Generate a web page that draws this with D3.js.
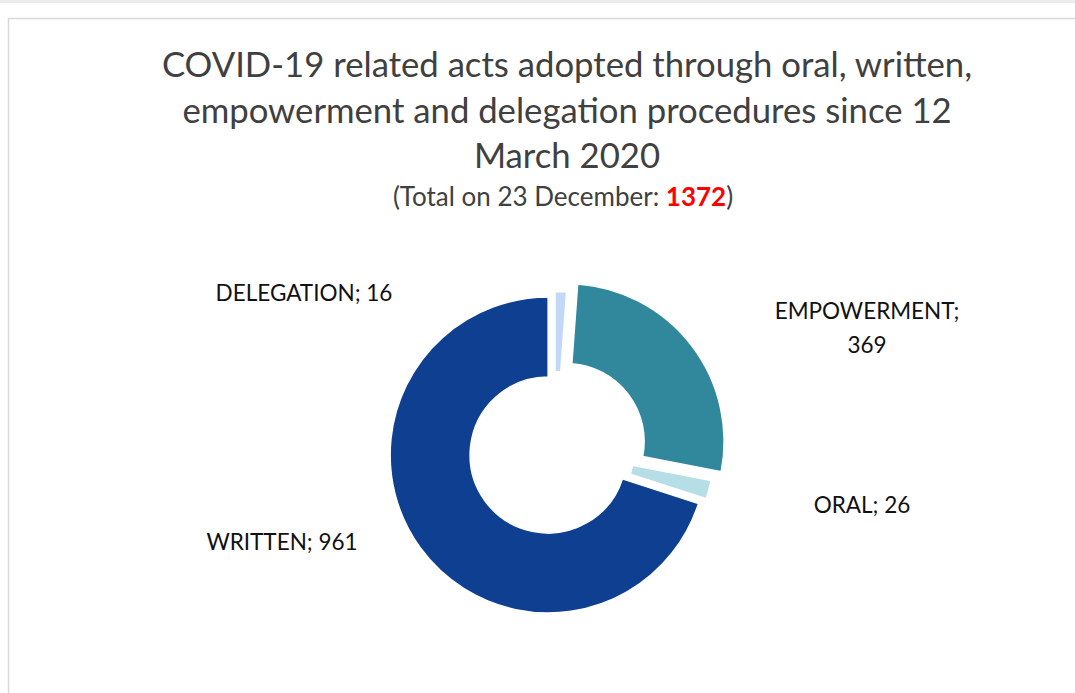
<!DOCTYPE html>
<html>
<head>
<meta charset="utf-8">
<script src="https://cdn.jsdelivr.net/npm/d3@7/dist/d3.min.js"></script>
<style>
  body{margin:0;background:#fff;}
  .chart text{font-family:Lato, "Open Sans", sans-serif;}
</style>
</head>
<body>
<div class="chart"></div>
<script>
/* data */
var categories=["DELEGATION","EMPOWERMENT","ORAL","WRITTEN"];
var values=[16,369,26,961];
var titleLines=["COVID-19 related acts adopted through oral, written,",
                "empowerment and delegation procedures since 12",
                "March 2020"];
var subtitlePrefix="(Total on 23 December: ";
var subtitleSuffix=")";

/* dimensions */
var width=1075, height=693;
var cx=555, cy=450;
var rOuter=158, rInner=78;

/* styles */
var colors=d3.scaleOrdinal()
  .domain(categories)
  .range(["#C3D7F8","#31879C","#B6DEE7","#0F3F91"]);
var explode={DELEGATION:0.5, EMPOWERMENT:14, ORAL:1, WRITTEN:8.5};
// label placement (Excel best-fit positions), x = centre, y = first baseline
var labelLayout={
  DELEGATION:{x:304, y:301, wrap:false},
  EMPOWERMENT:{x:867, y:319, wrap:true},
  ORAL:{x:862, y:513, wrap:false},
  WRITTEN:{x:282, y:550, wrap:false}
};

var total=d3.sum(values);

var svg=d3.select(".chart").append("svg")
  .attr("width", width)
  .attr("height", height);

/* frame */
svg.append("rect")
  .attr("x",0).attr("y",0)
  .attr("width",width).attr("height",3)
  .attr("fill","#ececec");
svg.append("rect")
  .attr("x",8.5).attr("y",18.5)
  .attr("width",width+20).attr("height",height+20)
  .attr("fill","#fff")
  .attr("stroke","#d9d9d9")
  .attr("stroke-width",1.5);

/* title */
svg.append("g").selectAll("text")
  .data(titleLines)
  .enter().append("text")
  .attr("x",567)
  .attr("y",function(d,i){return 77+i*45.5;})
  .attr("text-anchor","middle")
  .style("font-size","34.7px")
  .style("fill","#404040")
  .text(function(d){return d;});

var sub=svg.append("text")
  .attr("x",563)
  .attr("y",206)
  .attr("text-anchor","middle")
  .style("font-size","26px")
  .style("fill","#404040");
sub.append("tspan").text(subtitlePrefix);
sub.append("tspan").text(total).style("font-weight","bold").style("fill","#FF0000");
sub.append("tspan").text(subtitleSuffix);

/* donut */
var pie=d3.pie().sort(null).value(function(d){return d.value;});
var arc=d3.arc().innerRadius(rInner).outerRadius(rOuter);

var slices=pie(categories.map(function(c,i){return {name:c, value:values[i]};}));

var g=svg.append("g").attr("transform","translate("+cx+","+cy+")");

g.selectAll("path")
  .data(slices)
  .enter().append("path")
  .attr("d",arc)
  .attr("transform",function(d){
    var a=(d.startAngle+d.endAngle)/2, e=explode[d.data.name];
    return "translate("+(e*Math.sin(a))+","+(-e*Math.cos(a))+")";
  })
  .attr("fill",function(d){return colors(d.data.name);})
  .attr("stroke","#fff")
  .attr("stroke-width",1.5);

/* labels */
var labels=svg.append("g").selectAll("text")
  .data(slices)
  .enter().append("text")
  .attr("text-anchor","middle")
  .style("font-size","22.5px")
  .style("fill","#111");

labels.each(function(d){
  var t=d3.select(this), p=labelLayout[d.data.name];
  if(p.wrap){
    t.append("tspan").attr("x",p.x).attr("y",p.y).text(d.data.name+";");
    t.append("tspan").attr("x",p.x).attr("y",p.y+34).text(d.data.value);
  } else {
    t.attr("x",p.x).attr("y",p.y).text(d.data.name+"; "+d.data.value);
  }
});
</script>
</body>
</html>
